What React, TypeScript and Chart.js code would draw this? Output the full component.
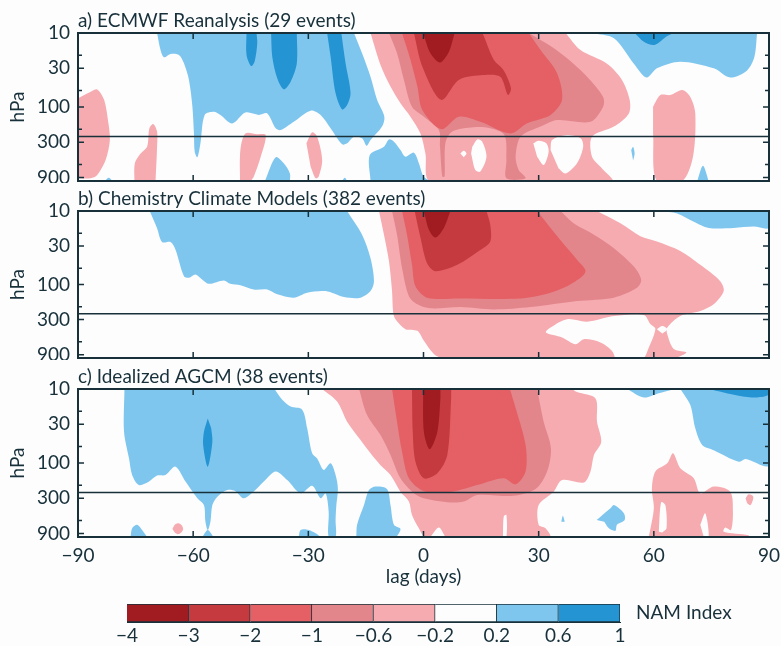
import React, { useEffect, useRef } from "react";
import { Chart, registerables } from "chart.js";

Chart.register(...registerables);

type Pt = number[];

// NAM index colour bands, strongest negative first (index 0..7)
const bandColors = ["#a01c20", "#c53a3e", "#e56065", "#e2868c", "#f6abb0", "#fdfdfe", "#7fc6ee", "#2594d3"];
const bandWidths = [1, 1, 1, 1, 1, 1, 1, 1];
const bandLabels = ["\u22124", "\u22123", "\u22122", "\u22121", "\u22120.6", "\u22120.2", "0.2", "0.6", "1"];

const yTicks = [10, 20, 30, 60, 100, 200, 300, 600, 900];
const yLabelled = [10, 30, 100, 300, 900];
const tropopause = [[-90, 250], [90, 250]];

const titles = ["a) ECMWF Reanalysis (29 events)", "b) Chemistry Climate Models (382 events)", "c) Idealized AGCM (38 events)"];

// Panel a: contour regions as [lag days, hPa]
const aBlueMain: Pt[] = [[-69.4,10],[-68.5,17],[-67.6,21.3],[-65.9,19.2],[-63.7,19.8],[-62.4,25.7],[-61.1,43],[-60.2,99],[-59.8,228],[-59.6,402],[-58.9,478],[-58.1,310],[-57,128],[-54.6,116],[-52.9,128],[-49.8,167],[-46.4,119],[-42.9,128],[-40.7,122],[-38.5,194],[-37.2,205],[-33.8,158],[-29.4,112],[-26.8,128],[-24.2,194],[-21.2,319],[-19.9,310],[-18.1,252],[-16,265],[-14.8,335],[-13.8,280],[-10.8,184],[-10.2,135],[-12.1,80],[-13.8,39],[-16,18.8],[-18.1,10]];
const aDark1: Pt[] = [[-46.1,10],[-46.1,19.8],[-44.9,28],[-44,24.4],[-43.3,13.8],[-43.5,10]];
const aDark2: Pt[] = [[-39.7,10],[-39.4,20.9],[-38.1,41],[-36.4,57.7],[-34.6,45.5],[-33,25.7],[-33,10]];
const aDark3: Pt[] = [[-25.1,10],[-24.2,20.9],[-22.9,65.4],[-21.2,108],[-19.9,94],[-19,65],[-20.3,25.7],[-21.4,10]];
const aBlueTiny1: Pt[] = [[-83,1000],[-82,905],[-81,1000]];
const aBlueLow1: Pt[] = [[-41.3,1000],[-38.5,478],[-36.4,576],[-34.8,790],[-34.8,1000]];
const aBlueTiny2: Pt[] = [[-21.2,1000],[-20.5,905],[-19.9,1000]];
const aBlueLow2: Pt[] = [[-13.8,1000],[-14,446],[-10.3,344],[-9,274],[-7.7,294],[-6,382],[-4.7,470],[-2.5,414],[-1.2,575],[0,870],[1.8,1000]];
const aPink1: Pt[] = [[-90,76],[-86.7,62],[-85,58],[-83.2,80],[-82.2,150],[-81.7,280],[-82.8,520],[-85,830],[-86.7,920],[-90,920]];
const aPink2: Pt[] = [[-75.3,1000],[-75.2,575],[-73.7,425],[-72,344],[-71.4,194],[-70.4,170],[-69.4,215],[-69.4,344],[-69.8,1000]];
const aPink3: Pt[] = [[-47.8,1000],[-47.7,382],[-46.4,228],[-43.3,233],[-41.1,240],[-42.4,470],[-44.2,870],[-45,1000]];
const aPink4: Pt[] = [[-30.5,310],[-29,220],[-27.7,252],[-26.4,520],[-27.3,870],[-28.1,920],[-29.4,640]];
const aPinkMain: Pt[] = [[-13.8,10],[-11.2,27],[-8.6,53],[-6,89],[-3.4,135],[-0.8,228],[0.5,425],[1.8,1000],[49.1,1000],[46.5,677],[43.9,470],[43.9,252],[49.6,184],[53.5,122],[53.7,80],[51.7,43],[47.8,26],[40.9,17],[37,10]];
const aMid: Pt[] = [[-9,10],[-6.9,18.8],[-5.1,43],[-3,99],[0.1,135],[4,205],[4.3,344],[4.9,870],[5.5,870],[5.7,310],[7.5,215],[13.1,188],[17.4,194],[21.1,240],[21.6,520],[21.6,920],[26.6,920],[24.8,712],[24,470],[25.3,252],[30.5,184],[34.8,150],[43.5,158],[46.8,99],[46.8,73],[42.6,39],[37.4,22],[33.1,15],[27.4,10]];
const aRed: Pt[] = [[-5.6,10],[-3.4,23],[-1.6,53],[-0.3,110],[4.6,200],[9.2,135],[14.8,158],[22.7,228],[27,166],[33.1,128],[36.1,80],[34.8,35],[30.5,17],[27.4,10]];
const aDeep: Pt[] = [[-2.5,10],[-0.3,28.5],[4.6,80],[9.2,43],[15.7,37],[20,39],[22,69],[22.8,56],[20.9,32],[18.3,23],[15.7,11],[15.3,10]];
const aCore: Pt[] = [[-0.1,10],[1.8,18.8],[4.3,25],[6.6,18],[7.9,11],[8.1,10]];
const aHole1: Pt[] = [[12.7,344],[14,274],[15.3,294],[16.4,470],[14.8,745],[13.5,712],[12.4,425]];
const aHole2: Pt[] = [[9.6,425],[10.5,390],[11.2,425],[10.5,478]];
const aHole3: Pt[] = [[28.6,310],[30,285],[32,310],[32.6,402],[31.3,608],[29.6,470]];
const aHole4: Pt[] = [[33.1,382],[33.5,280],[37,240],[40.9,265],[41.6,344],[40,575],[37,790],[35.2,677]];
const aBlueRight: Pt[] = [[43.9,10],[49.6,11.8],[54.8,26],[58.1,40],[60.8,30],[66.9,24.4],[75.6,30],[79.9,40],[84.3,32],[86.2,21],[86.9,10]];
const aDarkRight: Pt[] = [[55,10],[57.4,13.1],[60.2,14.5],[63.5,11],[65.2,10]];
const aPinkRight: Pt[] = [[59.8,99],[61.7,69],[64.3,69],[67.4,59],[69.5,73],[70.8,122],[70.2,470],[67.4,1000],[60.8,1000],[59.8,228]];
const aBlueSliver: Pt[] = [[54.1,382],[54.6,344],[55,425],[54.6,530]];
const aBlueTiny3: Pt[] = [[71.3,1000],[72.8,620],[74.3,1000]];

// Panel b
const bBlueMain: Pt[] = [[-71.3,10],[-69.4,17.2],[-68.1,26.5],[-65.9,26.5],[-64.6,33.6],[-62.4,77],[-61.1,81],[-59.4,73],[-57.6,86],[-55.9,98],[-52,88],[-50.3,98],[-47.7,102],[-44.2,117],[-40.7,117],[-38.1,136],[-33.8,151],[-30.3,129],[-25.5,123],[-20.7,148],[-16.4,151],[-13.8,123],[-12.9,90],[-13.8,44],[-16,21],[-19.9,10]];
const bPinkMain: Pt[] = [[-11.6,10],[-10.3,21],[-9,48],[-8.2,123],[-7.9,241],[-7.3,297],[-4.7,405],[-1.6,427],[0.1,584],[2.7,885],[4.9,1000],[49.6,1000],[49.1,800],[46.1,615],[41.8,554],[39.6,648],[36.1,525],[31.9,450],[33.1,385],[37.4,297],[42.6,320],[49.6,268],[57.4,259],[59.1,346],[60.4,405],[58.2,840],[57.8,1000],[65.2,1000],[68.5,840],[65.2,755],[63.5,475],[63.5,385],[66.9,268],[72.1,229],[75.6,186],[78.2,123],[77.3,90],[72.1,54],[66.9,35],[60.8,26],[56.5,22],[51.3,14.7],[45.2,10]];
const bHole: Pt[] = [[60.8,405],[62.2,366],[63.5,405],[62.2,465]];
const bMid: Pt[] = [[-8.2,10],[-6.9,21],[-5.6,59],[-3.8,144],[-1.6,186],[1.8,211],[9.6,203],[18.3,219],[27.9,203],[40,168],[49.6,151],[55.6,111],[56.7,86],[54.8,57],[49.6,32],[44.4,21],[39.1,14.7],[35.7,10]];
const bRed: Pt[] = [[-5.6,10],[-4.3,21],[-3,54],[-2.1,106],[0.9,151],[9.6,155],[25.3,155],[32.2,134],[38.2,100],[42.2,67],[40,46],[35.7,25],[29.6,10]];
const bDeep: Pt[] = [[-2.3,10],[-0.8,23],[0.9,51],[3.1,66],[8.8,54],[14.8,34],[17.4,26],[17.4,15.5],[16.4,10]];
const bCore: Pt[] = [[0.1,10],[1.4,18],[3.1,23],[5.3,17],[7,10]];
const bBlueRight: Pt[] = [[61.7,10],[66.1,10.8],[70.4,14],[74.3,17],[80.8,17],[86,16.3],[90,17],[90,10]];

// Panel c
const cBlueMain: Pt[] = [[-77.9,10],[-78,38],[-76.7,87],[-75.9,145],[-74.1,199],[-71.5,178],[-69.4,148],[-67.2,145],[-64.6,112],[-62,178],[-58.9,300],[-57.2,370],[-56.8,620],[-56.2,804],[-55.5,620],[-55,370],[-53.7,285],[-51.1,232],[-49,240],[-46.8,300],[-43.8,232],[-41.6,178],[-38.5,130],[-35.5,170],[-32,257],[-29,203],[-26.8,300],[-25.5,257],[-24.7,455],[-24.7,1000],[-22.9,1000],[-22.9,590],[-22.7,370],[-22.3,222],[-22.9,145],[-24.2,101],[-26,124],[-27.7,87],[-29,74],[-30.3,34],[-31.6,19],[-34.6,17.3],[-36.8,14],[-38.8,10]];
const cDark: Pt[] = [[-56.2,25],[-57.2,38],[-57.4,57],[-56.2,112],[-55,52],[-55.3,34]];
const cBlueLow1: Pt[] = [[-76.3,1000],[-75.9,764],[-74.6,685],[-73.3,804],[-72,1000]];
const cBlueLow2: Pt[] = [[-57.6,1000],[-56.2,804],[-54.7,1000]];
const cBlueLow3: Pt[] = [[-32.5,1000],[-32,804],[-29.9,804],[-28.1,890],[-26.8,1000]];
const cPinkDot: Pt[] = [[-65.4,780],[-64.8,685],[-64,654],[-63.1,685],[-62.6,780],[-63.1,870],[-64,920],[-64.8,870]];
const cBlueLow4: Pt[] = [[-17.5,1000],[-17.3,685],[-15.5,370],[-14.2,232],[-12.5,208],[-9.5,225],[-8.6,370],[-7.7,685],[-6,780],[-7,1000]];
const cPinkMain: Pt[] = [[-26.4,10],[-22.5,14.8],[-19.9,27.6],[-16.4,49],[-13.8,74],[-11.2,107],[-8.6,145],[-6,244],[-3.8,332],[-3,505],[-1.2,764],[0.5,1000],[32.9,1000],[31.8,764],[30,685],[30,370],[33.9,244],[36.1,170],[41.8,183],[43.5,130],[44.4,78],[46.3,52],[45.2,27.6],[44.8,13.4],[40,11],[38.7,10]];
const cNotch: Pt[] = [[1.8,1000],[4,745],[5.7,1000]];
const cSlit: Pt[] = [[20.7,945],[20.9,530],[21.6,505],[21.6,1000],[20.7,1000]];
const cMid: Pt[] = [[-16.8,10],[-14.7,22.5],[-11.2,42],[-8.6,78],[-6,161],[-2.5,257],[0.1,300],[6.2,339],[10.5,332],[14,271],[23.5,278],[29.2,225],[32.2,130],[33.2,63],[31.3,27.6],[29.6,10]];
const cRed: Pt[] = [[-8.2,10],[-6.9,27.6],[-5.6,70],[-3.8,161],[0.1,240],[7.5,244],[14,199],[20.9,161],[24,194],[26.6,130],[26.6,57],[24,18],[22.5,10]];
const cDeep: Pt[] = [[-3,10],[-2.8,38],[-2.1,96],[0.1,161],[3.6,138],[6.2,78],[7.2,13.4],[7.2,10]];
const cCore: Pt[] = [[-0.1,10],[0.1,38],[1.6,65],[3.6,38],[4.4,13.4],[4.4,10]];
const cBlueTop: Pt[] = [[53,10],[57.4,13],[61.3,11.4],[65.6,10]];
const cBlueRight: Pt[] = [[66.9,10],[69.5,16.5],[70.8,34],[72.6,57],[75.6,67],[82.1,96],[83.9,88],[90,107],[90,10]];
const cDarkRight: Pt[] = [[74.3,10],[82.1,12.3],[86.9,13],[90,12],[90,10]];
const cBlueBlob: Pt[] = [[45.1,590],[48.7,410],[49.6,370],[52.2,478],[52.4,590],[50.4,685],[50,826],[48.3,764],[47.1,620]];
const cBlueTiny: Pt[] = [[35.9,620],[36.3,517],[36.8,620]];
const cPinkRight: Pt[] = [[58.7,1000],[60,410],[59.5,222],[60.4,130],[63.5,101],[65,74],[66.9,118],[70.4,161],[72.1,257],[75.6,208],[79.9,244],[80.6,455],[80.1,804],[78.6,745],[78.2,848],[84.7,945],[84.7,1000]];
const cSlitR1: Pt[] = [[61.3,848],[61.9,339],[63,370],[63.3,764],[62.2,870]];
const cSlitR2: Pt[] = [[72.1,685],[73.4,478],[74.3,1000],[73,1000]];
const cPinkSmall: Pt[] = [[83.9,300],[84.7,265],[85.9,285],[85.2,370],[84.3,350]];

// [colour band index, region], painted in this order
const panelALayers: [number, Pt[]][] = [
  [6, aBlueMain], [7, aDark1], [7, aDark2], [7, aDark3], [6, aBlueTiny1], [6, aBlueLow1], [6, aBlueTiny2], [6, aBlueLow2],
  [4, aPink1], [4, aPink2], [4, aPink3], [4, aPink4], [4, aPinkMain], [5, aHole1], [5, aHole2], [5, aHole3], [5, aHole4],
  [3, aMid], [2, aRed], [1, aDeep], [0, aCore], [6, aBlueRight], [7, aDarkRight], [4, aPinkRight], [6, aBlueSliver], [6, aBlueTiny3],
];
const panelBLayers: [number, Pt[]][] = [
  [6, bBlueMain], [4, bPinkMain], [5, bHole], [3, bMid], [2, bRed], [1, bDeep], [0, bCore], [6, bBlueRight],
];
const panelCLayers: [number, Pt[]][] = [
  [6, cBlueMain], [7, cDark], [6, cBlueLow1], [6, cBlueLow2], [6, cBlueLow3], [4, cPinkDot], [6, cBlueLow4],
  [4, cPinkMain], [5, cNotch], [5, cSlit], [3, cMid], [2, cRed], [1, cDeep], [0, cCore],
  [6, cBlueTop], [6, cBlueRight], [7, cDarkRight], [6, cBlueBlob], [6, cBlueTiny], [4, cPinkRight], [5, cSlitR1], [5, cSlitR2], [4, cPinkSmall],
];

const INK = "#17303a";
const FONT = "Lato, 'Open Sans', sans-serif";
const TEXT_SIZE = 19;

const framePlugin = {
  id: "frame",
  afterDraw(chart: any) {
    const { ctx, chartArea: a, scales } = chart;
    ctx.save();
    ctx.strokeStyle = INK;
    ctx.lineWidth = 2;
    ctx.strokeRect(a.left, a.top, a.right - a.left, a.bottom - a.top);
    ctx.lineWidth = 1.5;
    ctx.beginPath();
    for (const t of scales.x.ticks) {
      const px = scales.x.getPixelForValue(t.value);
      if (t.value === -90 || t.value === 90) continue;
      ctx.moveTo(px, a.top);
      ctx.lineTo(px, a.top + 6);
      ctx.moveTo(px, a.bottom);
      ctx.lineTo(px, a.bottom - 6);
    }
    for (const t of scales.y.ticks) {
      const py = scales.y.getPixelForValue(t.value);
      if (t.value === 10) continue;
      const len = yLabelled.includes(t.value) ? 6 : 4;
      ctx.moveTo(a.left, py);
      ctx.lineTo(a.left + len, py);
      ctx.moveTo(a.right, py);
      ctx.lineTo(a.right - len, py);
    }
    ctx.stroke();
    ctx.restore();
  },
};

function panelConfig(title: string, layers: [number, Pt[]][], showX: boolean): any {
  const regions = layers
    .slice()
    .reverse()
    .map(([band, pts]) => ({
      data: pts,
      showLine: true,
      fill: "shape",
      backgroundColor: bandColors[band],
      borderWidth: 0,
      pointRadius: 0,
      tension: 0.3,
    }));
  const line = { data: tropopause, showLine: true, fill: false, borderColor: INK, borderWidth: 1.6, pointRadius: 0 };
  return {
    type: "scatter",
    data: { datasets: [line, ...regions] },
    plugins: [framePlugin],
    options: {
      animation: false,
      responsive: false,
      showLine: true,
      events: [],
      layout: { padding: { right: 12, bottom: showX ? 0 : 2 } },
      plugins: {
        legend: { display: false },
        tooltip: { enabled: false },
        title: {
          display: true,
          text: title,
          align: "start",
          fullSize: false,
          color: INK,
          font: { family: FONT, size: TEXT_SIZE, weight: "normal", lineHeight: "20px" },
          padding: { top: 0, bottom: 2 },
        },
      },
      scales: {
        x: {
          type: "linear",
          min: -90,
          max: 90,
          grid: { display: false, drawTicks: false },
          border: { display: false },
          ticks: {
            display: showX,
            stepSize: 30,
            padding: 9,
            color: INK,
            font: { family: FONT, size: TEXT_SIZE, lineHeight: "20px" },
            maxRotation: 0,
            callback: (v: number) => String(v).replace("-", "\u2212"),
          },
          title: {
            display: showX,
            text: "lag (days)",
            color: INK,
            font: { family: FONT, size: TEXT_SIZE, lineHeight: "20px" },
            padding: { top: 0, bottom: 3 },
          },
          afterFit(s: any) {
            s.height = showX ? 53 : 0;
            s.paddingLeft = 0;
            s.paddingRight = 0;
          },
        },
        y: {
          type: "logarithmic",
          min: 10,
          max: 1000,
          reverse: true,
          grid: { display: false, drawTicks: false },
          border: { display: false },
          afterBuildTicks(s: any) {
            s.ticks = yTicks.map((value) => ({ value }));
          },
          ticks: {
            autoSkip: false,
            padding: 8,
            color: INK,
            font: { family: FONT, size: TEXT_SIZE, lineHeight: "20px" },
            callback: (v: number) => (yLabelled.includes(v) ? String(v) : ""),
          },
          title: {
            display: true,
            text: "hPa",
            color: INK,
            font: { family: FONT, size: TEXT_SIZE, lineHeight: "20px" },
            padding: { top: 8, bottom: 0 },
          },
          afterFit(s: any) {
            s.width = 78;
            s.paddingTop = 0;
            s.paddingBottom = 0;
          },
        },
      },
    },
  };
}

function barConfig(): any {
  return {
    type: "bar",
    data: {
      labels: ["NAM Index"],
      datasets: bandWidths.map((w, i) => ({
        data: [w],
        backgroundColor: bandColors[i],
        borderColor: INK,
        borderWidth: 1,
        barPercentage: 1,
        categoryPercentage: 1,
      })),
    },
    options: {
      indexAxis: "y",
      animation: false,
      responsive: false,
      events: [],
      layout: { padding: { left: 127, top: 8 } },
      plugins: { legend: { display: false }, tooltip: { enabled: false } },
      scales: {
        x: {
          stacked: true,
          min: 0,
          max: 8,
          grid: { display: false, drawTicks: false },
          border: { display: true, color: INK, width: 1 },
          ticks: {
            stepSize: 1,
            padding: 4,
            maxRotation: 0,
            autoSkip: false,
            color: INK,
            font: { family: FONT, size: TEXT_SIZE, lineHeight: "20px" },
            callback: (v: number) => bandLabels[v],
          },
          afterFit(s: any) {
            s.height = 24;
            s.paddingLeft = 0;
            s.paddingRight = 0;
          },
        },
        y: {
          position: "right",
          stacked: true,
          grid: { display: false, drawTicks: false },
          border: { display: false },
          ticks: { padding: 16, color: INK, font: { family: FONT, size: TEXT_SIZE, lineHeight: "20px" } },
          afterFit(s: any) {
            s.width = 161;
            s.paddingTop = 0;
            s.paddingBottom = 0;
          },
        },
      },
    },
  };
}

export default function App() {
  const aRef = useRef<HTMLCanvasElement>(null);
  const bRef = useRef<HTMLCanvasElement>(null);
  const cRef = useRef<HTMLCanvasElement>(null);
  const barRef = useRef<HTMLCanvasElement>(null);

  useEffect(() => {
    document.body.style.margin = "0";
    const charts = [
      new Chart(aRef.current!, panelConfig(titles[0], panelALayers, false)),
      new Chart(bRef.current!, panelConfig(titles[1], panelBLayers, false)),
      new Chart(cRef.current!, panelConfig(titles[2], panelCLayers, true)),
      new Chart(barRef.current!, barConfig()),
    ];
    return () => charts.forEach((c) => c.destroy());
  }, []);

  const place = (top: number): React.CSSProperties => ({ position: "absolute", left: 0, top, filter: "blur(0.4px)" });
  return (
    <div style={{ position: "relative", width: 781, height: 646, background: "#fdfdfe", overflow: "hidden" }}>
      <canvas ref={aRef} width={781} height={172} style={place(11)} />
      <canvas ref={bRef} width={781} height={171} style={place(189)} />
      <canvas ref={cRef} width={781} height={223} style={place(367)} />
      <canvas ref={barRef} width={781} height={50} style={place(596)} />
    </div>
  );
}
